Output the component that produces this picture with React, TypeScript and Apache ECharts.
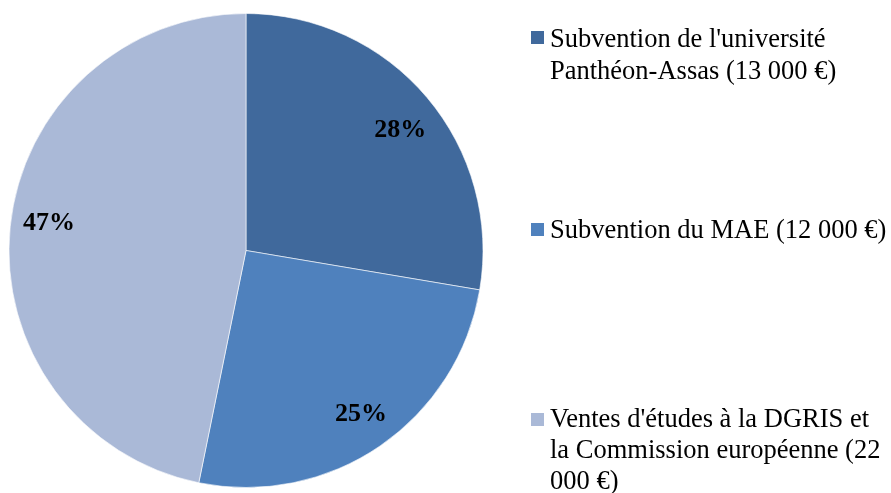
import React, { useEffect, useRef } from "react";
import * as echarts from "echarts";

const categories = [
  "Subvention de l'université Panthéon-Assas (13 000 €)",
  "Subvention du MAE (12 000 €)",
  "Ventes d'études à la DGRIS et la Commission européenne (22 000 €)",
];
const legendLines = [
  "Subvention de l'université\nPanthéon-Assas (13 000 €)",
  "Subvention du MAE (12 000 €)",
  "Ventes d'études à la DGRIS et\nla Commission européenne (22\n000 €)",
];
const values = [13000, 12000, 22000];
const colors = ["#40699C", "#4F81BD", "#AAB9D7"];

const FONT = "Liberation Serif";
// label nudges (style only), to mimic the original's label placement
const labelNudges = [
  [3, 6],
  [3, -1],
  [0, -9],
];

export default function App() {
  const ref = useRef<HTMLDivElement>(null);
  useEffect(() => {
    if (!ref.current) return;
    const chart = echarts.init(ref.current, undefined, { renderer: "svg" });
    const data = categories.map((name, i) => ({
      name,
      value: values[i],
      itemStyle: { color: colors[i] },
    }));
    const legendTops = [22, 213, 402];
    const legendLineHeights = [32, 32, 31];
    const markerTops = [31, 223, 413];
    const graphics: any[] = [];
    legendLines.forEach((t, i) => {
      graphics.push({
        type: "rect",
        left: 531,
        top: markerTops[i],
        shape: { width: 13, height: 13 },
        style: { fill: colors[i] },
      });
      graphics.push({
        type: "text",
        left: 550,
        top: legendTops[i],
        style: {
          text: t,
          fontFamily: FONT,
          fontSize: 26.5,
          lineHeight: legendLineHeights[i],
          fill: "#000",
        },
      });
    });
    chart.setOption({
      animation: false,
      textStyle: { fontFamily: FONT },
      graphic: graphics,
      series: [
        {
          type: "pie",
          center: [246, 250.5],
          radius: [0, 237],
          startAngle: 90,
          clockwise: true,
          data,
          label: { show: false },
          labelLine: { show: false },
          itemStyle: { borderColor: "#ffffff", borderWidth: 0.6 },
          silent: true,
        },
        {
          type: "pie",
          center: [246, 250.5],
          radius: [153, 237],
          startAngle: 90,
          clockwise: true,
          percentPrecision: 0,
          data: categories.map((name, i) => ({ name, value: values[i] })),
          itemStyle: { color: "transparent" },
          label: {
            show: true,
            position: "inside",
            formatter: "{d}%",
            fontFamily: FONT,
            fontWeight: "bold",
            fontSize: 26,
            color: "#000",
          },
          labelLayout: (p: any) => ({
            dx: labelNudges[p.dataIndex][0],
            dy: labelNudges[p.dataIndex][1],
          }),
          labelLine: { show: false },
          silent: true,
        },
      ],
    });
    return () => chart.dispose();
  }, []);
  return (
    <div
      ref={ref}
      style={{ position: "fixed", left: 0, top: 0, width: 891, height: 493 }}
    />
  );
}
